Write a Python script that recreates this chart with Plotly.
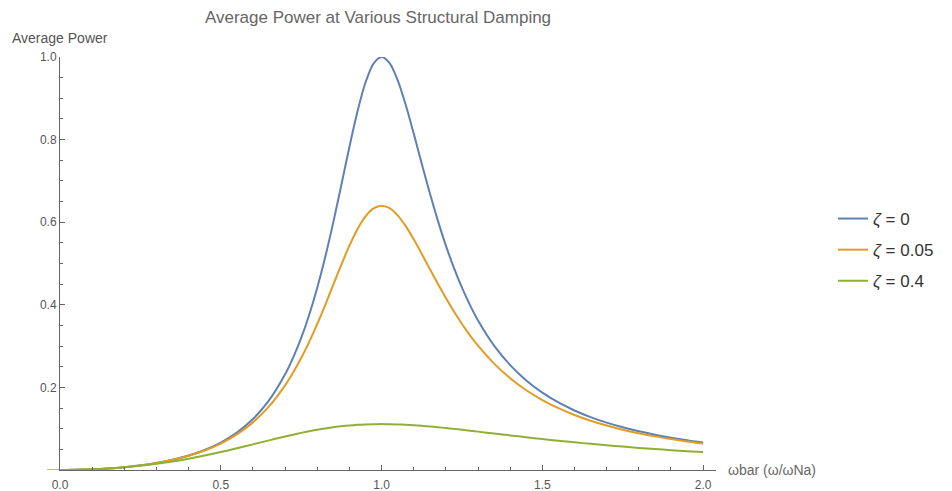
import plotly.graph_objects as go

# x values (omega bar); denser sampling around the resonance
omega_bar = [0.00, 0.05, 0.10, 0.15, 0.20, 0.25, 0.30, 0.35, 0.40, 0.45,
             0.50, 0.55, 0.60, 0.65, 0.70, 0.725, 0.75, 0.775, 0.80, 0.825,
             0.85, 0.875, 0.90, 0.925, 0.95, 0.975, 1.00, 1.025, 1.05, 1.075,
             1.10, 1.125, 1.15, 1.175, 1.20, 1.225, 1.25, 1.275, 1.30, 1.35,
             1.40, 1.45, 1.50, 1.55, 1.60, 1.65, 1.70, 1.75, 1.80, 1.85,
             1.90, 1.95, 2.00]

power_zeta_0 = [0.0000, 0.0004, 0.0016, 0.0038, 0.0069, 0.0113, 0.0171, 0.0249, 0.0350, 0.0485,
                0.0664, 0.0905, 0.1233, 0.1685, 0.2316, 0.2721, 0.3198, 0.3760, 0.4414, 0.5164,
                0.6002, 0.6904, 0.7821, 0.8679, 0.9382, 0.9842, 1.0000, 0.9850, 0.9438, 0.8842,
                0.8145, 0.7416, 0.6705, 0.6039, 0.5434, 0.4893, 0.4414, 0.3992, 0.3622, 0.3012,
                0.2539, 0.2168, 0.1873, 0.1635, 0.1441, 0.1280, 0.1146, 0.1033, 0.0936, 0.0854,
                0.0782, 0.0719, 0.0664]

power_zeta_005 = [0.0000, 0.0004, 0.0016, 0.0037, 0.0069, 0.0112, 0.0169, 0.0246, 0.0343, 0.0472,
                  0.0640, 0.0861, 0.1153, 0.1539, 0.2049, 0.2359, 0.2711, 0.3103, 0.3536, 0.4001,
                  0.4487, 0.4973, 0.5432, 0.5832, 0.6141, 0.6335, 0.6400, 0.6338, 0.6165, 0.5905,
                  0.5586, 0.5233, 0.4869, 0.4508, 0.4162, 0.3837, 0.3536, 0.3260, 0.3009, 0.2576,
                  0.2222, 0.1932, 0.1694, 0.1497, 0.1333, 0.1194, 0.1077, 0.0976, 0.0890, 0.0814,
                  0.0749, 0.0691, 0.0640]

power_zeta_04 = [0.0000, 0.0004, 0.0016, 0.0036, 0.0065, 0.0103, 0.0150, 0.0208, 0.0274, 0.0349,
                 0.0434, 0.0525, 0.0621, 0.0718, 0.0812, 0.0856, 0.0899, 0.0938, 0.0974, 0.1006,
                 0.1035, 0.1058, 0.1078, 0.1093, 0.1103, 0.1109, 0.1111, 0.1109, 0.1104, 0.1095,
                 0.1084, 0.1070, 0.1054, 0.1036, 0.1016, 0.0996, 0.0974, 0.0952, 0.0929, 0.0883,
                 0.0838, 0.0793, 0.0750, 0.0708, 0.0669, 0.0633, 0.0598, 0.0566, 0.0535, 0.0507,
                 0.0481, 0.0456, 0.0434]

series_names = ["<i>ζ</i> = 0", "<i>ζ</i> = 0.05", "<i>ζ</i> = 0.4"]
series_values = [power_zeta_0, power_zeta_005, power_zeta_04]
series_colors = ["#5E81B5", "#E19C24", "#8FB032"]

x_tick_vals = [0.0, 0.5, 1.0, 1.5, 2.0]
x_tick_text = ["0.0", "0.5", "1.0", "1.5", "2.0"]
y_tick_vals = [0.2, 0.4, 0.6, 0.8, 1.0]
y_tick_text = ["0.2", "0.4", "0.6", "0.8", "1.0"]

fig = go.Figure()
for i, (name, vals, col) in enumerate(zip(series_names, series_values, series_colors)):
    fig.add_trace(go.Scatter(
        x=omega_bar, y=vals, mode="lines", name=name,
        line=dict(color=col, width=2, shape="spline", smoothing=0.8),
        cliponaxis=False, legendgroup=f"g{i}",
    ))

axis_col = "#666666"
font_family = "Liberation Sans, Arial, sans-serif"
tick_font = dict(family=font_family, size=12, color="#555555")

# the page body adds an 8px offset; layout numbers compensate for it
W, H = 952, 491
fig.update_layout(
    width=W, height=H,
    margin=dict(l=52, r=244, t=49, b=29, autoexpand=False),
    paper_bgcolor="white", plot_bgcolor="white",
    title=dict(text="Average Power at Various Structural Damping",
               x=370 / W, xanchor="center", xref="container",
               y=1 - 9 / H, yanchor="middle", yref="container",
               font=dict(family=font_family, size=17, color="#666666")),
    xaxis=dict(range=[0, 2.04], showgrid=False, zeroline=False,
               showline=True, linecolor=axis_col, linewidth=1,
               tickmode="array", tickvals=x_tick_vals, ticktext=x_tick_text,
               ticks="inside", ticklen=5, tickcolor=axis_col, tickwidth=1,
               ticklabelstandoff=4,
               minor=dict(dtick=0.1, tick0=0, ticks="inside", ticklen=3, tickcolor=axis_col, showgrid=False),
               tickfont=tick_font),
    yaxis=dict(range=[0, 1.0], showgrid=False, zeroline=False,
               showline=True, linecolor=axis_col, linewidth=1,
               tickmode="array", tickvals=y_tick_vals, ticktext=y_tick_text,
               ticks="inside", ticklen=5, tickcolor=axis_col, tickwidth=1,
               minor=dict(dtick=0.05, tick0=0, ticks="inside", ticklen=3, tickcolor=axis_col, showgrid=False),
               tickfont=tick_font),
    legend=dict(x=825 / W, xanchor="left", xref="container",
                y=1 - 242 / H, yanchor="middle", yref="container",
                font=dict(family=font_family, size=17, color="#333333"),
                tracegroupgap=6, itemwidth=30, bgcolor="rgba(0,0,0,0)"),
    showlegend=True,
)

# small extension of the x-axis line to the left of the origin
fig.add_shape(type="line", xref="paper", yref="y", x0=-13 / 656, x1=0, y0=0, y1=0,
              line=dict(color=axis_col, width=1))

fig.add_annotation(text="ωbar (ω/ωNa)", xref="paper", yref="paper",
                   x=1.0 + 10 / 656, y=0, xanchor="left", yanchor="middle",
                   showarrow=False,
                   font=dict(family=font_family, size=14, color="#666666"))
fig.add_annotation(text="Average Power", xref="paper", yref="paper",
                   x=-50 / 656, y=1 + 19 / 413, xanchor="left", yanchor="middle",
                   showarrow=False,
                   font=dict(family=font_family, size=14, color="#555555"))

fig.write_html("out.html")
